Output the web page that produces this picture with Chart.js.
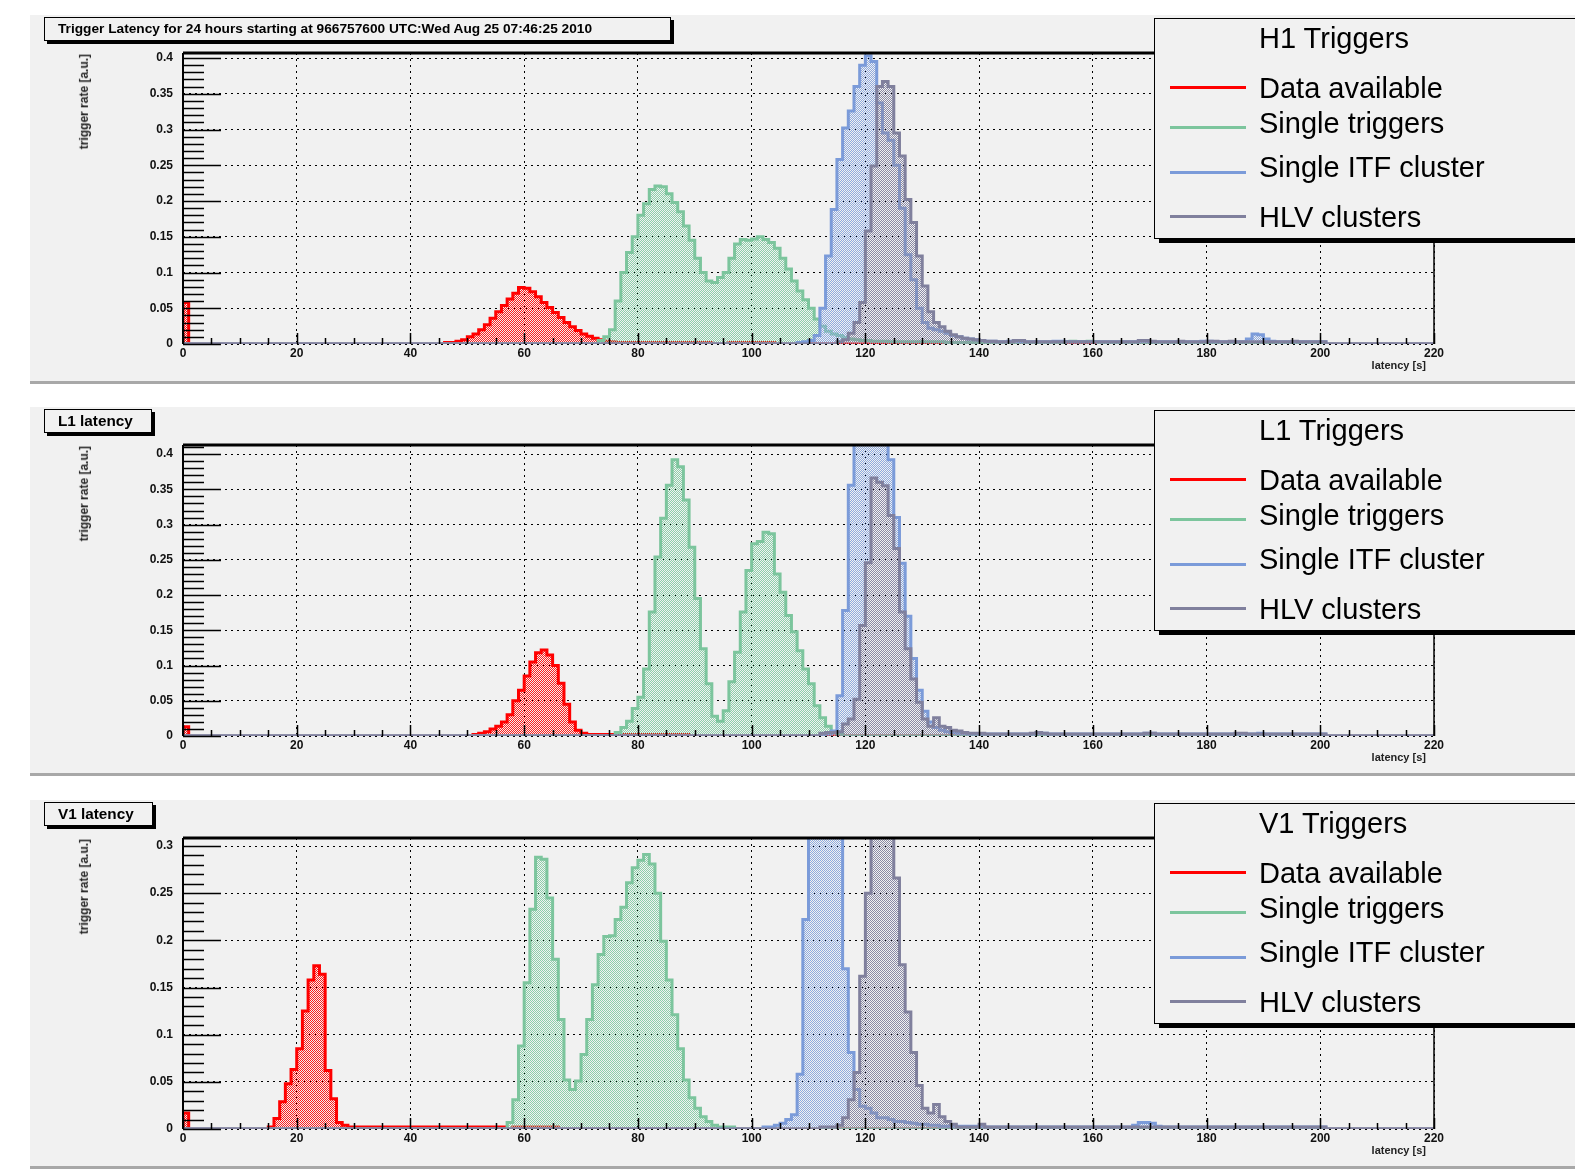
<!DOCTYPE html>
<html>
<head>
<meta charset="utf-8">
<title>Trigger latency</title>
<script src="https://cdn.jsdelivr.net/npm/chart.js@4.4.1/dist/chart.umd.min.js"></script>
<style>
  html, body { margin: 0; padding: 0; background: #ffffff; width: 1575px; height: 1170px; overflow: hidden; }
  .pad { position: absolute; left: 30px; width: 1545px; height: 366px; background: #f1f1f1; border-bottom: 3px solid #a8a8a8; overflow: hidden; }
  .pad canvas { position: absolute; left: 0; top: 0; }
  .title-box { position: absolute; left: 14px; top: 2px; height: 24px; border: 1px solid #000; box-shadow: 3px 3px 0 #000; background: #f1f1f1;
               font-family: "Liberation Sans", Arial, sans-serif; font-weight: bold; line-height: 22px; padding-left: 13px; white-space: nowrap; color: #000; box-sizing: border-box; }
  .legend { position: absolute; left: 1124px; top: 3px; width: 470px; height: 221px; border: 1px solid #000; box-shadow: 5px 4px 0 #000; background: #f1f1f1; box-sizing: border-box; }
  .legend .txt { position: absolute; left: 104px; height: 34px; line-height: 34px; font: 29px "Liberation Sans", Arial, sans-serif; color: #000; white-space: nowrap; }
  .legend .swatch { position: absolute; left: 15px; width: 76px; height: 3px; }
  .ytitle { position: absolute; left: 47px; top: 39px; writing-mode: vertical-rl; transform: rotate(180deg); font: bold 12px "Liberation Sans", Arial, sans-serif; color: #222; white-space: nowrap; }
  .xtitle { position: absolute; right: 149px; top: 344px; font: bold 11px "Liberation Sans", Arial, sans-serif; color: #222; white-space: nowrap; }
</style>
</head>
<body>
<script>
// Trigger latency histograms, 1 s bins from 0 to 220 s

const xMin = 0;
const xMax = 220;
const binWidth = 1;
const xTickStep = 20;
const xMinorStep = 5;
const yTickStep = 0.05;
const yMinorStep = 0.01;

const seriesNames = ['Data available', 'Single triggers', 'Single ITF cluster', 'HLV clusters'];
const seriesColors = ['#ff0000', '#7cc59d', '#7b9bd9', '#80809d'];
const fillColors = ['#ff1c1c', '#8ccfaa', '#8eaadf', '#8a8aa6'];

const panelTitles = [
    'Trigger Latency for 24 hours starting at 966757600 UTC:Wed Aug 25 07:46:25 2010',
    'L1 latency',
    'V1 latency'
];
const titleWidths = [627, 108, 109];
const titleFontSizes = [13.7, 15.3, 15.3];
const legendHeaders = ['H1 Triggers', 'L1 Triggers', 'V1 Triggers'];
const yMaxima = [0.407, 0.413, 0.3085];

// Each series: list of [first bin, bin contents]
const h1Red = [
    [0, [0.058]],
    [46, [0.002, 0.002, 0.004, 0.006, 0.010, 0.014, 0.020, 0.027, 0.036, 0.045,
          0.054, 0.063, 0.071, 0.079, 0.078, 0.073, 0.066, 0.058, 0.051, 0.044,
          0.037, 0.030, 0.024, 0.019, 0.014, 0.011, 0.008, 0.006, 0.004, 0.003,
          0.002, 0.002, 0.002, 0.002, 0.002, 0.002, 0.002, 0.002, 0.002, 0.002,
          0.002, 0.002, 0.002, 0.002, 0.002, 0.002, 0.002]],
    [96, [0.002, 0.002, 0.002, 0.002, 0.002, 0.002, 0.002, 0.002]]
];
const h1Green = [
    [73, [0.005, 0.010, 0.020, 0.060, 0.100, 0.128, 0.150, 0.180, 0.196, 0.216,
          0.221, 0.220, 0.210, 0.198, 0.185, 0.165, 0.145, 0.120, 0.100, 0.088,
          0.086, 0.093, 0.100, 0.120, 0.140, 0.146, 0.145, 0.147, 0.150, 0.146,
          0.142, 0.134, 0.120, 0.105, 0.088, 0.074, 0.062, 0.050, 0.035, 0.025,
          0.018, 0.014, 0.012, 0.009, 0.007, 0.006, 0.005, 0.005, 0.004, 0.004,
          0.004, 0.003, 0.003, 0.003, 0.003, 0.003, 0.003, 0.003, 0.003, 0.003,
          0.003, 0.002, 0.002, 0.002, 0.002, 0.002, 0.002, 0.002]],
    [155, [0.003, 0.004, 0.003, 0.003, 0.004, 0.003]]
];
const h1Blue = [
    [108, [0.002, 0.003, 0.005, 0.012, 0.050, 0.123, 0.188, 0.258, 0.302, 0.326,
           0.360, 0.390, 0.403, 0.395, 0.337, 0.295, 0.285, 0.250, 0.190, 0.125,
           0.090, 0.050, 0.030, 0.022, 0.020, 0.018, 0.015, 0.012, 0.010, 0.008,
           0.007, 0.006, 0.005]],
    [141, [0.004, 0.004, 0.003, 0.003, 0.004, 0.004, 0.003, 0.003, 0.003, 0.003,
           0.003, 0.003, 0.004, 0.004, 0.003, 0.003, 0.003, 0.003, 0.003, 0.003,
           0.003, 0.003, 0.003, 0.003, 0.003, 0.003, 0.003, 0.004, 0.004, 0.003,
           0.003, 0.003, 0.003, 0.003, 0.003, 0.003, 0.003, 0.003, 0.004, 0.004,
           0.003, 0.003, 0.003, 0.003, 0.003, 0.003, 0.007, 0.014, 0.013, 0.007,
           0.004, 0.003, 0.003, 0.003, 0.003, 0.003, 0.003, 0.003, 0.003, 0.003]]
];
const h1Purple = [
    [115, [0.003, 0.006, 0.015, 0.030, 0.058, 0.158, 0.249, 0.360, 0.367, 0.360,
           0.295, 0.263, 0.202, 0.170, 0.123, 0.081, 0.045, 0.030, 0.024, 0.018,
           0.013, 0.010, 0.008, 0.007, 0.006, 0.005]],
    [141, [0.004, 0.004, 0.003, 0.003, 0.003, 0.005, 0.005, 0.003, 0.003, 0.003,
           0.003, 0.003, 0.003, 0.003, 0.003, 0.003, 0.003, 0.003, 0.003, 0.003,
           0.003, 0.003, 0.003, 0.003, 0.003, 0.003, 0.003, 0.005, 0.005, 0.004,
           0.003, 0.003, 0.003, 0.003, 0.004, 0.003, 0.003, 0.003, 0.003, 0.004,
           0.004, 0.003, 0.003, 0.004, 0.003, 0.003, 0.003, 0.003, 0.003, 0.003,
           0.003, 0.003, 0.003, 0.003, 0.004, 0.003, 0.003, 0.003, 0.003, 0.003]]
];

const l1Red = [
    [0, [0.013]],
    [51, [0.002, 0.004, 0.006, 0.010, 0.014, 0.020, 0.030, 0.050, 0.065, 0.085,
          0.105, 0.118, 0.122, 0.115, 0.100, 0.075, 0.045, 0.020, 0.008, 0.004,
          0.002, 0.002, 0.002, 0.002, 0.002, 0.002, 0.002, 0.002, 0.002, 0.002,
          0.002, 0.002, 0.002, 0.002, 0.002, 0.002, 0.002, 0.002]]
];
const l1Green = [
    [76, [0.005, 0.012, 0.021, 0.039, 0.055, 0.095, 0.176, 0.254, 0.309, 0.356,
          0.392, 0.382, 0.335, 0.268, 0.195, 0.124, 0.074, 0.028, 0.021, 0.036,
          0.077, 0.119, 0.176, 0.235, 0.273, 0.276, 0.289, 0.287, 0.230, 0.204,
          0.171, 0.148, 0.121, 0.095, 0.074, 0.043, 0.026, 0.014, 0.006, 0.003]]
];
const l1Blue = [
    [113, [0.003, 0.007, 0.057, 0.178, 0.356, 0.440, 0.490, 0.520, 0.500, 0.470,
           0.430, 0.392, 0.310, 0.245, 0.170, 0.110, 0.065, 0.035, 0.020, 0.012,
           0.008, 0.006, 0.005, 0.004, 0.004, 0.003, 0.003, 0.003]],
    [141, [0.003, 0.003, 0.003, 0.003, 0.003, 0.003, 0.003, 0.003, 0.003, 0.004,
           0.004, 0.003, 0.003, 0.003, 0.003, 0.003, 0.003, 0.003, 0.003, 0.003,
           0.003, 0.003, 0.003, 0.003, 0.003, 0.003, 0.003, 0.003, 0.004, 0.004,
           0.003, 0.003, 0.003, 0.003, 0.003, 0.003, 0.003, 0.003, 0.003, 0.003,
           0.003, 0.003, 0.003, 0.003, 0.003, 0.003, 0.003, 0.003, 0.004, 0.003,
           0.003, 0.003, 0.003, 0.003, 0.003, 0.003, 0.003, 0.003, 0.003, 0.003]]
];
const l1Purple = [
    [112, [0.004, 0.005, 0.005, 0.006, 0.017, 0.024, 0.052, 0.157, 0.246, 0.366,
           0.360, 0.355, 0.313, 0.266, 0.176, 0.124, 0.081, 0.048, 0.024, 0.014,
           0.026, 0.014, 0.012, 0.008, 0.007, 0.005, 0.004, 0.004, 0.004]],
    [141, [0.003, 0.003, 0.003, 0.003, 0.003, 0.003, 0.003, 0.003, 0.004, 0.005,
           0.004, 0.003, 0.003, 0.003, 0.003, 0.003, 0.003, 0.003, 0.003, 0.003,
           0.003, 0.003, 0.003, 0.003, 0.003, 0.003, 0.003, 0.003, 0.004, 0.004,
           0.003, 0.003, 0.003, 0.003, 0.003, 0.003, 0.003, 0.003, 0.003, 0.003,
           0.003, 0.003, 0.003, 0.003, 0.004, 0.004, 0.003, 0.003, 0.003, 0.003,
           0.003, 0.003, 0.003, 0.003, 0.003, 0.003, 0.003, 0.003, 0.003, 0.003]]
];

const v1Red = [
    [0, [0.017]],
    [15, [0.002, 0.011, 0.029, 0.048, 0.063, 0.085, 0.125, 0.158, 0.173, 0.164,
          0.062, 0.032, 0.007, 0.004, 0.002, 0.002, 0.002, 0.002, 0.002, 0.002,
          0.002, 0.002, 0.002, 0.002, 0.002, 0.002, 0.002, 0.002, 0.002, 0.002,
          0.002, 0.002, 0.002, 0.002, 0.002, 0.002, 0.002, 0.002, 0.002, 0.002,
          0.002, 0.002]],
    [58, [0.002, 0.002, 0.002, 0.002, 0.002, 0.002, 0.002, 0.002]]
];
const v1Green = [
    [57, [0.007, 0.031, 0.088, 0.155, 0.233, 0.288, 0.286, 0.245, 0.180, 0.116,
          0.052, 0.042, 0.051, 0.079, 0.116, 0.153, 0.185, 0.204, 0.205, 0.222,
          0.235, 0.261, 0.277, 0.285, 0.291, 0.281, 0.250, 0.199, 0.158, 0.121,
          0.085, 0.052, 0.033, 0.022, 0.013, 0.008, 0.004, 0.002, 0.002, 0.002]]
];
const v1Blue = [
    [102, [0.002, 0.002, 0.004, 0.006, 0.010, 0.015, 0.058, 0.222, 0.330, 0.380,
           0.400, 0.390, 0.360, 0.330, 0.170, 0.081, 0.042, 0.024, 0.022, 0.017,
           0.012, 0.012, 0.010, 0.008, 0.008, 0.007, 0.006, 0.005, 0.005, 0.004,
           0.004, 0.003, 0.003, 0.003, 0.003, 0.003, 0.003, 0.003, 0.003]],
    [141, [0.002, 0.002, 0.002, 0.002, 0.002, 0.002, 0.002, 0.002, 0.002, 0.002,
           0.002, 0.002, 0.002, 0.002, 0.002, 0.002, 0.002, 0.002, 0.002, 0.002,
           0.002, 0.002, 0.002, 0.002, 0.002, 0.002, 0.004, 0.007, 0.007, 0.006,
           0.003, 0.002, 0.002, 0.002, 0.002, 0.002, 0.002, 0.002, 0.002, 0.002,
           0.002, 0.002, 0.002, 0.002, 0.002, 0.002, 0.002, 0.002, 0.002, 0.002,
           0.002, 0.002, 0.002, 0.002, 0.002, 0.002, 0.002, 0.002, 0.002, 0.002]]
];
const v1Purple = [
    [112, [0.002, 0.002, 0.002, 0.004, 0.012, 0.031, 0.060, 0.162, 0.250, 0.330,
           0.360, 0.350, 0.320, 0.266, 0.174, 0.124, 0.081, 0.046, 0.022, 0.017,
           0.026, 0.013, 0.008, 0.005, 0.002, 0.002, 0.002, 0.002, 0.005]],
    [141, [0.002, 0.002, 0.002, 0.002, 0.002, 0.002, 0.002, 0.002, 0.002, 0.002,
           0.002, 0.002, 0.002, 0.002, 0.002, 0.002, 0.002, 0.002, 0.002, 0.002,
           0.002, 0.002, 0.002, 0.002, 0.002, 0.002, 0.002, 0.002, 0.002, 0.002,
           0.002, 0.002, 0.002, 0.002, 0.002, 0.002, 0.002, 0.002, 0.002, 0.002,
           0.002, 0.002, 0.002, 0.002, 0.002, 0.002, 0.002, 0.002, 0.002, 0.002,
           0.002, 0.002, 0.002, 0.002, 0.002, 0.002, 0.002, 0.002, 0.002, 0.002]]
];

const panelSeries = [
    [h1Red, h1Green, h1Blue, h1Purple],
    [l1Red, l1Green, l1Blue, l1Purple],
    [v1Red, v1Green, v1Blue, v1Purple]
];

// layout of the pads (pixels)
const padTops = [15, 407, 800];
const padWidth = 1545;
const padHeight = 366;
const legendTextY = [70, 105, 149, 199];
const legendLineY = [68, 108, 153, 197];
const legendHeaderY = 20;

// Turn bin segments into step points for a stepped line
function histPoints(segments) {
    const nBins = Math.round((xMax - xMin) / binWidth);
    const bins = new Array(nBins).fill(0);
    segments.forEach(([first, values]) => {
        values.forEach((v, i) => { bins[first + i] = v; });
    });
    const pts = [{ x: xMin, y: 0 }];
    bins.forEach((v, i) => pts.push({ x: xMin + i * binWidth, y: v }));
    pts.push({ x: xMax, y: 0 });
    return pts;
}

// Dotted fill like the ROOT fill style
function dotPattern(ctx, color) {
    const tile = document.createElement('canvas');
    tile.width = 2;
    tile.height = 2;
    const t = tile.getContext('2d');
    t.fillStyle = color;
    t.fillRect(0, 0, 1, 1);
    t.fillRect(1, 1, 1, 1);
    return ctx.createPattern(tile, 'repeat');
}

// Frame, inside ticks and axis lines drawn over the histograms
const rootFrame = {
    id: 'rootFrame',
    afterDatasetsDraw(chart) {
        const { ctx, chartArea: a, scales: { x, y } } = chart;
        ctx.save();
        ctx.strokeStyle = '#000';

        ctx.lineWidth = 1.5;
        ctx.beginPath();
        const perMajorY = Math.round(yTickStep / yMinorStep);
        for (let k = 0; k * yMinorStep <= y.max + 1e-9; k++) {
            const py = Math.round(y.getPixelForValue(k * yMinorStep)) + 0.5;
            const len = k % perMajorY === 0 ? 38 : 21;
            ctx.moveTo(a.left, py);
            ctx.lineTo(a.left + len, py);
        }
        ctx.stroke();

        ctx.beginPath();
        const perMajorX = Math.round(xTickStep / xMinorStep);
        for (let k = 0; k * xMinorStep <= xMax; k++) {
            const px = Math.round(x.getPixelForValue(xMin + k * xMinorStep)) + 0.5;
            const len = k % perMajorX === 0 ? 11 : 6;
            ctx.moveTo(px, a.bottom);
            ctx.lineTo(px, a.bottom - len);
        }
        ctx.stroke();

        // left axis
        ctx.lineWidth = 2;
        ctx.beginPath();
        ctx.moveTo(a.left, a.bottom);
        ctx.lineTo(a.left, a.top);
        ctx.stroke();

        // top and right frame
        ctx.lineWidth = 3;
        ctx.beginPath();
        ctx.moveTo(a.left, a.top);
        ctx.lineTo(a.right, a.top);
        ctx.stroke();
        ctx.lineWidth = 1.5;
        ctx.beginPath();
        ctx.moveTo(a.right, a.top);
        ctx.lineTo(a.right, a.bottom);
        ctx.stroke();
        ctx.restore();
    }
};

const tickFont = { family: '"Liberation Sans", Arial, sans-serif', size: 12, weight: 'bold' };

function buildPad(p) {
    const pad = document.createElement('div');
    pad.className = 'pad';
    pad.style.top = padTops[p] + 'px';
    document.body.appendChild(pad);

    const canvas = document.createElement('canvas');
    canvas.width = padWidth;
    canvas.height = padHeight;
    pad.appendChild(canvas);

    const title = document.createElement('div');
    title.className = 'title-box';
    title.style.width = titleWidths[p] + 'px';
    title.style.fontSize = titleFontSizes[p] + 'px';
    title.textContent = panelTitles[p];
    pad.appendChild(title);

    const yt = document.createElement('div');
    yt.className = 'ytitle';
    yt.textContent = 'trigger rate [a.u.]';
    pad.appendChild(yt);

    const xt = document.createElement('div');
    xt.className = 'xtitle';
    xt.textContent = 'latency [s]';
    pad.appendChild(xt);

    const legend = document.createElement('div');
    legend.className = 'legend';
    const head = document.createElement('div');
    head.className = 'txt';
    head.style.top = (legendHeaderY - 17) + 'px';
    head.textContent = legendHeaders[p];
    legend.appendChild(head);
    seriesNames.forEach((name, i) => {
        const sw = document.createElement('div');
        sw.className = 'swatch';
        sw.style.top = (legendLineY[i] - 1.5) + 'px';
        sw.style.background = seriesColors[i];
        legend.appendChild(sw);
        const txt = document.createElement('div');
        txt.className = 'txt';
        txt.style.top = (legendTextY[i] - 17) + 'px';
        txt.textContent = name;
        legend.appendChild(txt);
    });
    pad.appendChild(legend);

    const ctx = canvas.getContext('2d');
    const datasets = panelSeries[p].map((segments, i) => ({
        label: seriesNames[i],
        data: histPoints(segments),
        borderColor: seriesColors[i],
        backgroundColor: dotPattern(ctx, fillColors[i]),
        borderWidth: 3,
        stepped: true,
        fill: 'origin',
        pointRadius: 0,
        order: seriesNames.length - i
    }));

    new Chart(ctx, {
        type: 'line',
        data: { datasets: datasets },
        options: {
            responsive: false,
            animation: false,
            devicePixelRatio: 1,
            layout: { padding: { top: 38, right: 141, left: 0, bottom: 0 } },
            plugins: {
                legend: { display: false },
                tooltip: { enabled: false },
                title: { display: false }
            },
            scales: {
                x: {
                    type: 'linear',
                    min: xMin,
                    max: xMax,
                    afterFit: (scale) => {
                        scale.height = 37;
                        scale.paddingLeft = 0;
                        scale.paddingRight = 0;
                    },
                    ticks: {
                        stepSize: xTickStep,
                        autoSkip: false,
                        maxRotation: 0,
                        padding: 2,
                        color: '#111',
                        font: tickFont
                    },
                    grid: { color: '#000', lineWidth: 1, drawTicks: false },
                    border: { display: false, dash: [2, 4] }
                },
                y: {
                    type: 'linear',
                    min: 0,
                    max: yMaxima[p],
                    afterFit: (scale) => {
                        scale.width = 153;
                        scale.paddingTop = 0;
                        scale.paddingBottom = 0;
                    },
                    ticks: {
                        stepSize: yTickStep,
                        includeBounds: false,
                        padding: 10,
                        color: '#111',
                        font: tickFont,
                        callback: (v) => String(+v.toFixed(2))
                    },
                    grid: { color: '#000', lineWidth: 1, drawTicks: false },
                    border: { display: false, dash: [2, 4] }
                }
            }
        },
        plugins: [rootFrame]
    });
}

document.addEventListener('DOMContentLoaded', function() {
    for (let p = 0; p < panelTitles.length; p++) {
        buildPad(p);
    }
});
</script>
</body>
</html>
